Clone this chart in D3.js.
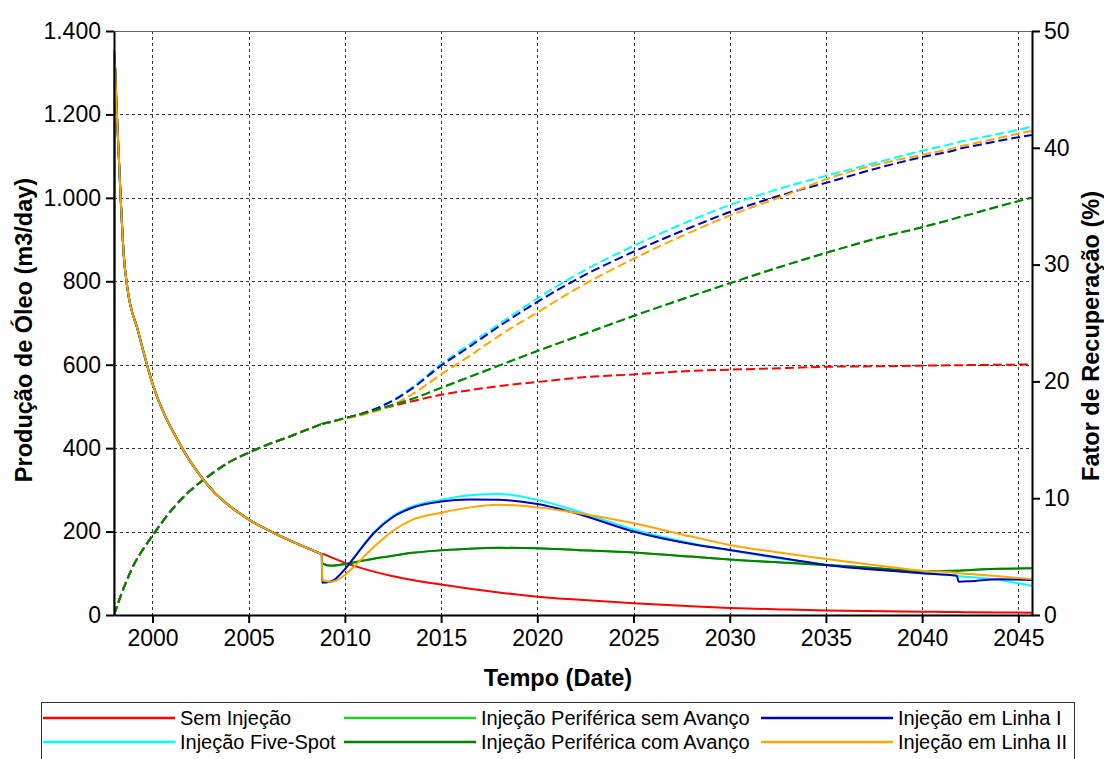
<!DOCTYPE html>
<html>
<head>
<meta charset="utf-8">
<script src="https://cdn.jsdelivr.net/npm/d3@7/dist/d3.min.js"></script>
<style>
  body { margin: 0; background: #fff; }
  text { font-family: "Liberation Sans", Arial, sans-serif; fill: #000; }
</style>
</head>
<body>
<div id="chart"></div>
<script>
// shared history (all cases identical until injection starts, late 2008)
const histYears = [1998.0, 1998.01, 1998.13, 1998.35, 1998.51, 1998.68, 1999.25, 2000, 2001.42, 2002.72, 2004.97, 2006.44, 2008.8];
const histProd = [0, 1350, 1222, 997, 861, 789, 681, 555, 410, 320, 230, 194, 146];
const rfHistYears = [1998.0, 1998.5, 1999, 1999.5, 2000, 2001, 2002, 2003, 2004, 2005, 2006, 2007, 2008, 2008.8];
const rfHist = [0, 2.3, 4.2, 5.6, 6.8, 9.0, 10.7, 12.0, 13.1, 13.9, 14.6, 15.2, 15.85, 16.35];

// forecast years
const fcYears = [2008.82, 2009.3, 2010, 2010.6, 2011.5, 2012.5, 2013.5, 2015, 2016.5, 2018, 2020, 2022, 2025, 2028, 2030, 2033, 2035, 2038, 2040, 2041.8, 2041.9, 2042.5, 2044, 2045.7];

// oil rate, m3/day
const prodSem = [146, 138, 125, 116, 104, 93, 84, 73, 63, 54, 44, 37, 28, 21, 17, 13, 11, 9, 8, 7, 7, 6.5, 6, 5.5];
const prodFive = [77, 80, 110, 146, 198, 238, 260, 276, 287, 290, 276, 250, 205, 172, 155, 133, 121, 108, 100, 94, 93, 91, 84, 70];
const prodCom = [124, 118, 122, 127, 135, 142, 149, 155, 159, 161, 160, 156, 150, 140, 133, 125, 120, 111, 105, 106, 106, 108, 111, 112];
const prodLinha1 = [78, 81, 110, 145, 196, 235, 257, 272, 277, 276, 266, 244, 200, 170, 156, 134, 120, 107, 100, 94, 80, 81, 86, 84];
const prodLinha2 = [84, 80, 96, 122, 163, 202, 228, 245, 258, 264, 258, 245, 220, 188, 168, 147, 134, 117, 106, 101, 100, 98, 93, 86];

// recovery factor, %
const rfSem = [16.36, 16.55, 16.85, 17.1, 17.5, 17.9, 18.3, 18.85, 19.25, 19.6, 19.95, 20.3, 20.6, 20.9, 21.0, 21.15, 21.25, 21.3, 21.35, 21.38, 21.38, 21.4, 21.42, 21.45];
const rfFive = [16.36, 16.55, 16.85, 17.1, 17.6, 18.4, 19.5, 21.5, 23.2, 24.9, 27.1, 29.1, 31.6, 33.8, 35.1, 36.7, 37.6, 38.9, 39.75, 40.45, 40.5, 40.7, 41.2, 41.8];
const rfCom = [16.36, 16.55, 16.85, 17.1, 17.5, 18.0, 18.5, 19.45, 20.4, 21.35, 22.6, 23.8, 25.6, 27.3, 28.4, 30.0, 31.0, 32.4, 33.2, 34.0, 34.05, 34.3, 35.0, 35.73];
const rfLinha1 = [16.36, 16.55, 16.85, 17.1, 17.6, 18.35, 19.4, 21.35, 23.0, 24.7, 26.8, 28.7, 31.1, 33.2, 34.5, 36.1, 37.0, 38.4, 39.2, 39.85, 39.9, 40.1, 40.6, 41.1];
const rfLinha2 = [16.36, 16.55, 16.8, 17.0, 17.4, 18.0, 18.9, 20.6, 22.2, 23.9, 25.9, 27.9, 30.5, 32.8, 34.2, 36.0, 37.3, 38.7, 39.4, 40.05, 40.1, 40.3, 40.85, 41.45];

// "sem Avanço" sits underneath "com Avanço" in the source, never visible
const prodSemAvanco = prodCom;
const rfSemAvanco = rfCom;

const xTicks = [2000, 2005, 2010, 2015, 2020, 2025, 2030, 2035, 2040, 2045];
const yTicks = [0, 200, 400, 600, 800, 1000, 1200, 1400];
const y2Ticks = [0, 10, 20, 30, 40, 50];

const series = [
  { name: 'Sem Injeção', color: '#ff0000', prod: prodSem, rf: rfSem },
  { name: 'Injeção Five-Spot', color: '#00ffff', prod: prodFive, rf: rfFive },
  { name: 'Injeção Periférica sem Avanço', color: '#22d022', prod: prodSemAvanco, rf: rfSemAvanco },
  { name: 'Injeção Periférica com Avanço', color: '#008000', prod: prodCom, rf: rfCom },
  { name: 'Injeção em Linha I', color: '#0000b4', prod: prodLinha1, rf: rfLinha1 },
  { name: 'Injeção em Linha II', color: '#ffa500', prod: prodLinha2, rf: rfLinha2 }
];

const width = 1104;
const height = 759;
const plot = { left: 114, right: 1032, top: 31, bottom: 615 };

const svg = d3.select('#chart').append('svg')
  .attr('width', width)
  .attr('height', height);

const x = d3.scaleLinear()
  .domain([1998.0, 2045.71])
  .range([plot.left, plot.right]);
const y = d3.scaleLinear()
  .domain([0, 1400])
  .range([plot.bottom, plot.top]);
const y2 = d3.scaleLinear()
  .domain([0, 50])
  .range([plot.bottom, plot.top]);

// pt-BR style thousands: 1.400
const br = d3.formatLocale({ decimal: ',', thousands: '.', grouping: [3], currency: ['', ''] });
const fmt = br.format(',');

// grid
const grid = svg.append('g').attr('class', 'grid')
  .attr('stroke', '#333')
  .attr('stroke-width', 1)
  .attr('stroke-dasharray', '3,3');
grid.selectAll('line.v')
  .data(xTicks)
  .enter().append('line')
  .attr('class', 'v')
  .attr('x1', d => Math.round(x(d)) + 0.5)
  .attr('x2', d => Math.round(x(d)) + 0.5)
  .attr('y1', plot.top)
  .attr('y2', plot.bottom);
grid.selectAll('line.h')
  .data(yTicks.slice(1, -1))
  .enter().append('line')
  .attr('class', 'h')
  .attr('x1', plot.left)
  .attr('x2', plot.right)
  .attr('y1', d => Math.round(y(d)) + 0.5)
  .attr('y2', d => Math.round(y(d)) + 0.5);

// top frame line
svg.append('line')
  .attr('x1', plot.left).attr('x2', plot.right)
  .attr('y1', plot.top + 0.5).attr('y2', plot.top + 0.5)
  .attr('stroke', '#666');

const pts = (xs, ys) => xs.map((d, i) => [d, ys[i]]);

const prodLine = d3.line()
  .x(d => x(d[0]))
  .y(d => y(d[1]))
  .curve(d3.curveMonotoneX);
const rfLine = d3.line()
  .x(d => x(d[0]))
  .y(d => y2(d[1]))
  .curve(d3.curveMonotoneX);

const histPts = pts(histYears, histProd);
const rfHistPts = pts(rfHistYears, rfHist);

const lines = svg.append('g').attr('class', 'lines').attr('fill', 'none');

// history and forecast as separate paths so the shared part overlaps exactly
const drawCase = (s, hist, fc, line, dashed) => {
  [hist, [hist[hist.length - 1]].concat(fc)].forEach((p) => {
    lines.append('path')
      .attr('d', line(p))
      .attr('stroke', s.color)
      .attr('stroke-width', 2)
      .attr('stroke-dasharray', dashed ? '9,4' : null);
  });
};

// dashed recovery factor, com Avanço drawn last (it shows on the shared history)
[0, 1, 2, 4, 5, 3].forEach((i) => {
  const s = series[i];
  drawCase(s, rfHistPts, pts(fcYears, s.rf), rfLine, true);
});

// solid oil rate
series.forEach((s) => {
  drawCase(s, histPts, pts(fcYears, s.prod), prodLine, false);
});

// axes
const axisFont = g => g.selectAll('text')
  .style('font-size', '23px')
  .style('font-family', '"Liberation Sans", Arial, sans-serif')
  .attr('fill', '#000');

svg.append('g')
  .attr('transform', `translate(${plot.left},0)`)
  .call(d3.axisLeft(y).tickValues(yTicks).tickFormat(fmt).tickSize(8).tickPadding(5).tickSizeOuter(0))
  .call(axisFont)
  .call(g => g.selectAll('line, path').attr('stroke', '#000').attr('stroke-width', 2));

svg.append('g')
  .attr('transform', `translate(${plot.right},0)`)
  .call(d3.axisRight(y2).tickValues(y2Ticks).tickFormat(d3.format('d')).tickSize(8).tickPadding(4).tickSizeOuter(0))
  .call(axisFont)
  .call(g => g.selectAll('line, path').attr('stroke', '#000').attr('stroke-width', 2));

svg.append('g')
  .attr('transform', `translate(0,${plot.bottom})`)
  .call(d3.axisBottom(x).tickValues(xTicks).tickFormat(d3.format('d')).tickSize(8).tickPadding(7).tickSizeOuter(0))
  .call(axisFont)
  .call(g => g.selectAll('line, path').attr('stroke', '#000').attr('stroke-width', 2));

// axis titles
svg.append('text')
  .attr('transform', `translate(32,${(plot.top + plot.bottom) / 2 + 7}) rotate(-90)`)
  .attr('text-anchor', 'middle')
  .attr('font-weight', 'bold')
  .style('font-size', '23.5px')
  .text('Produção de Óleo (m3/day)');

svg.append('text')
  .attr('transform', `translate(1099,${(plot.top + plot.bottom) / 2 + 13}) rotate(-90)`)
  .attr('text-anchor', 'middle')
  .attr('font-weight', 'bold')
  .style('font-size', '23.5px')
  .text('Fator de Recuperação (%)');

svg.append('text')
  .attr('x', 558)
  .attr('y', 686)
  .attr('text-anchor', 'middle')
  .attr('font-weight', 'bold')
  .style('font-size', '23.5px')
  .text('Tempo (Date)');

// legend, 3 columns x 2 rows
const legend = svg.append('g').attr('class', 'legend');
legend.append('rect')
  .attr('x', 41.5).attr('y', 702.5)
  .attr('width', 1033).attr('height', 70)
  .attr('fill', 'none')
  .attr('stroke', '#333');

const legendOrder = [0, 2, 4, 1, 3, 5];
const colX = [43, 344, 761];
const rowY = [718, 742];
legendOrder.forEach((si, k) => {
  const s = series[si];
  const cx = colX[k % 3];
  const cy = rowY[Math.floor(k / 3)];
  legend.append('line')
    .attr('x1', cx).attr('x2', cx + 132)
    .attr('y1', cy).attr('y2', cy)
    .attr('stroke', s.color)
    .attr('stroke-width', 2.5);
  legend.append('text')
    .attr('x', cx + 137)
    .attr('y', cy)
    .attr('dy', '0.35em')
    .style('font-size', '20px')
    .text(s.name);
});
</script>
</body>
</html>
